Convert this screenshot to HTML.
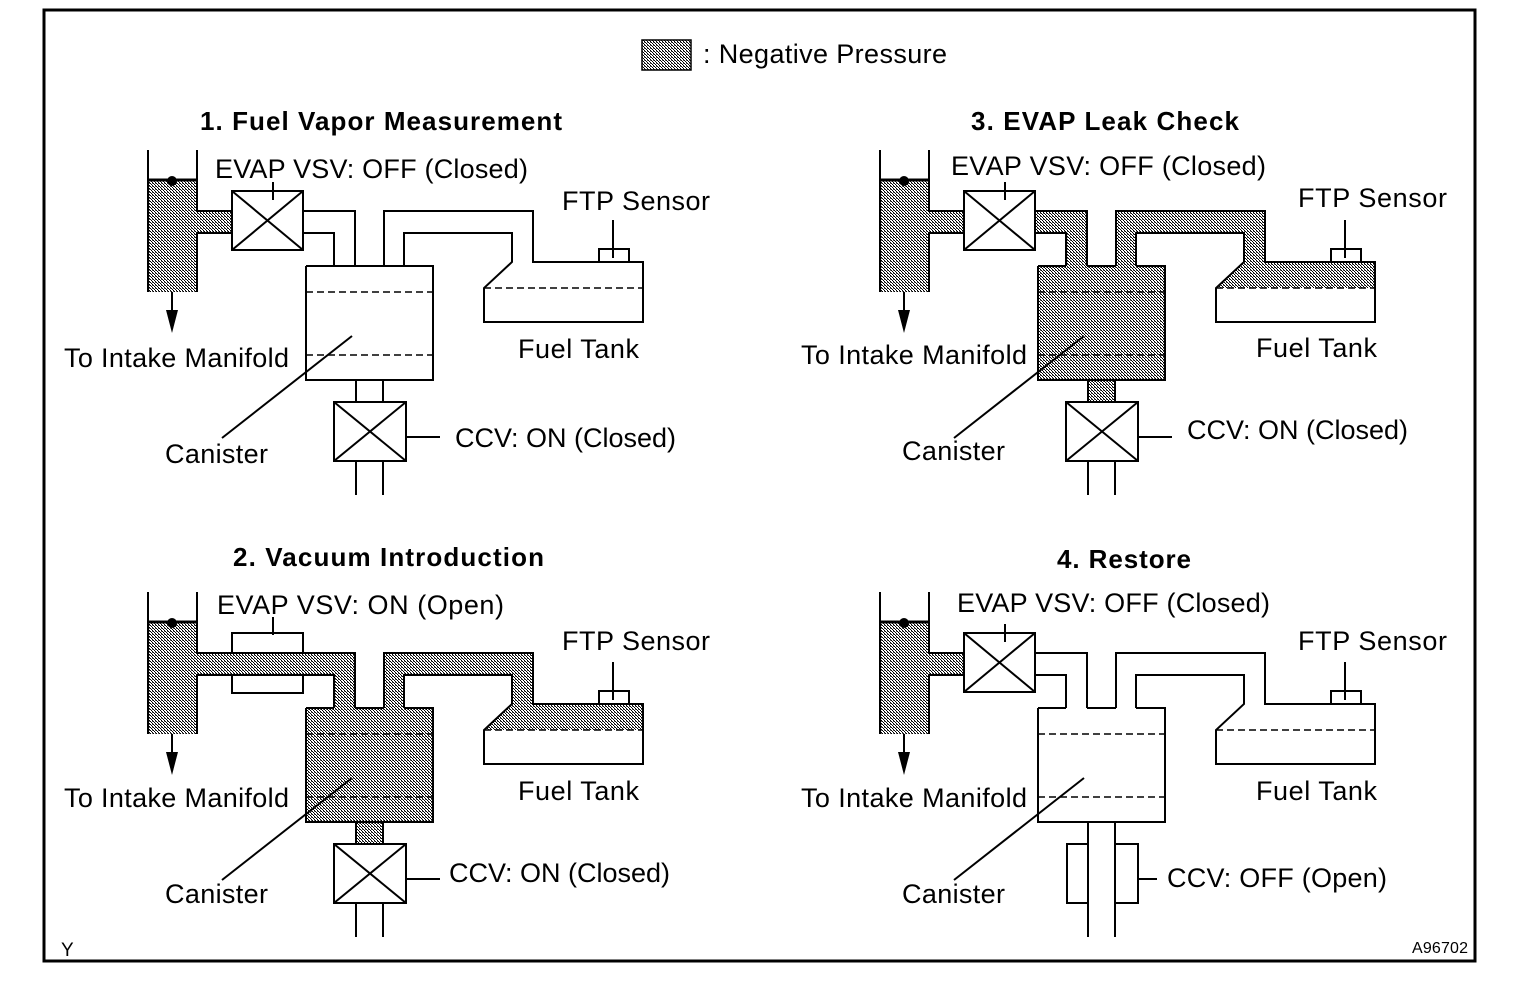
<!DOCTYPE html>
<html><head><meta charset="utf-8"><style>
html,body{margin:0;padding:0;background:#fff}
svg{display:block}
text{font-family:"Liberation Sans",Arial,sans-serif;fill:#000}
</style></head><body>
<svg width="1520" height="982" viewBox="0 0 1520 982" xmlns="http://www.w3.org/2000/svg">
<defs>
<pattern id="p" patternUnits="userSpaceOnUse" width="3" height="3">
<rect width="3" height="3" fill="#fff"/>
<rect x="0" y="0" width="1" height="1" fill="#000"/>
<rect x="1" y="1" width="1" height="1" fill="#000"/>
<rect x="2" y="2" width="1" height="1" fill="#000"/>
<rect x="2" y="0" width="1" height="1" fill="#666"/>
</pattern>
<g id="tube">
<rect x="148" y="180" width="49" height="112" fill="url(#p)"/>
<rect x="197" y="211" width="35" height="22" fill="url(#p)"/>
<path d="M148,150V292M197,150V211H232M197,292V233H232" fill="none" stroke="#000" stroke-width="2"/>
<line x1="148" y1="180" x2="197" y2="180" stroke="#000" stroke-width="3"/>
<circle cx="172" cy="181" r="5" fill="#000"/>
<line x1="172" y1="292" x2="172" y2="315" stroke="#000" stroke-width="2"/>
<polygon points="166,310 178,310 172,333" fill="#000"/>
</g>
<g id="vsvc" fill="none" stroke="#000" stroke-width="2">
<rect x="232" y="191" width="71" height="59" fill="#fff"/>
<path d="M232,191L303,250M303,191L232,250M273,182V200"/>
</g>
<g id="ccvc" fill="none" stroke="#000" stroke-width="2">
<rect x="334" y="402" width="72" height="59" fill="#fff"/>
<path d="M334,402L406,461M406,402L334,461M356,461V495M383,461V495M356,380V402M383,380V402M406,437H440"/>
</g>
<g id="lines" fill="none" stroke="#000" stroke-width="2">
<path d="M303,211H355V266M303,233H334V266"/>
<path d="M384,266V211H533V262H599M629,262H643V322H484V288L512,262V233H404V266"/>
<rect x="599" y="249" width="30" height="13"/>
<path d="M613,220V258"/>
<path d="M306,266V380H433V266H404M384,266H355M334,266H306"/>
<path d="M306,292H433M306,355H433" stroke-dasharray="7,4" stroke-width="1.5"/>
<path d="M484,288H643" stroke-dasharray="7,4" stroke-width="1.5"/>
<path d="M352,336L222,438"/>
</g>
<g id="shade" fill="url(#p)">
<polygon points="303,211 355,211 355,266 334,266 334,233 303,233"/>
<polygon points="384,266 384,211 533,211 533,262 512,262 512,233 404,233 404,266"/>
<polygon points="484,288 512,262 643,262 643,288"/>
<rect x="306" y="266" width="127" height="114"/>
<rect x="356" y="380" width="27" height="22"/>
</g>
</defs>
<rect x="44" y="10" width="1431" height="951" fill="none" stroke="#000" stroke-width="3"/>
<rect x="642" y="40" width="49" height="30" fill="url(#p)" stroke="#000" stroke-width="1.5"/>
<text x="703" y="63" font-size="27" textLength="244">: Negative Pressure</text>

<!-- Panel 1 -->
<g>
<use href="#tube"/><use href="#lines"/>
<line x1="306" y1="266" x2="433" y2="266" stroke="#000" stroke-width="2"/>
<use href="#vsvc"/><use href="#ccvc"/>
<text x="200" y="130" font-size="26" font-weight="bold" textLength="362">1. Fuel Vapor Measurement</text>
<text x="215" y="178" font-size="27" textLength="313">EVAP VSV: OFF (Closed)</text>
<text x="562" y="210" font-size="27" textLength="148">FTP Sensor</text>
<text x="64" y="367" font-size="27" textLength="225">To Intake Manifold</text>
<text x="518" y="358" font-size="27" textLength="121">Fuel Tank</text>
<text x="165" y="463" font-size="27" textLength="103">Canister</text>
<text x="455" y="447" font-size="27" textLength="221">CCV: ON (Closed)</text>
</g>

<!-- Panel 3 -->
<g transform="translate(732,0)">
<use href="#shade"/><use href="#tube"/><use href="#lines"/>
<use href="#vsvc"/><use href="#ccvc"/>
</g>
<text x="971" y="130" font-size="26" font-weight="bold" textLength="268">3. EVAP Leak Check</text>
<text x="951" y="175" font-size="27" textLength="315">EVAP VSV: OFF (Closed)</text>
<text x="1298" y="207" font-size="27" textLength="149">FTP Sensor</text>
<text x="801" y="364" font-size="27" textLength="226">To Intake Manifold</text>
<text x="1256" y="357" font-size="27" textLength="121">Fuel Tank</text>
<text x="902" y="460" font-size="27" textLength="103">Canister</text>
<text x="1187" y="439" font-size="27" textLength="221">CCV: ON (Closed)</text>

<!-- Panel 2 -->
<g transform="translate(0,442)">
<use href="#shade"/>
<rect x="197" y="211" width="137" height="22" fill="url(#p)"/>
<use href="#tube"/><use href="#lines"/>
<path d="M232,211V191H303V211M232,233V251H303V233M197,211H303M197,233H303M273,175V193" fill="none" stroke="#000" stroke-width="2"/>
<use href="#ccvc"/>
</g>
<text x="233" y="566" font-size="26" font-weight="bold" textLength="311">2. Vacuum Introduction</text>
<text x="217" y="614" font-size="27" textLength="287">EVAP VSV: ON (Open)</text>
<text x="562" y="650" font-size="27" textLength="148">FTP Sensor</text>
<text x="64" y="807" font-size="27" textLength="225">To Intake Manifold</text>
<text x="518" y="800" font-size="27" textLength="121">Fuel Tank</text>
<text x="165" y="903" font-size="27" textLength="103">Canister</text>
<text x="449" y="882" font-size="27" textLength="221">CCV: ON (Closed)</text>

<!-- Panel 4 -->
<g transform="translate(732,442)">
<use href="#tube"/><use href="#lines"/>
<use href="#vsvc"/>
<path d="M356,380V495M383,380V495M356,402H335V461H356M383,402H406V461H383M406,437H425" fill="none" stroke="#000" stroke-width="2"/>
</g>
<text x="1057" y="568" font-size="26" font-weight="bold" textLength="134">4. Restore</text>
<text x="957" y="612" font-size="27" textLength="313">EVAP VSV: OFF (Closed)</text>
<text x="1298" y="650" font-size="27" textLength="149">FTP Sensor</text>
<text x="801" y="807" font-size="27" textLength="226">To Intake Manifold</text>
<text x="1256" y="800" font-size="27" textLength="121">Fuel Tank</text>
<text x="902" y="903" font-size="27" textLength="103">Canister</text>
<text x="1167" y="887" font-size="27" textLength="220">CCV: OFF (Open)</text>

<text x="61" y="956" font-size="19">Y</text>
<text x="1412" y="953" font-size="16" textLength="56">A96702</text>
</svg>
</body></html>
